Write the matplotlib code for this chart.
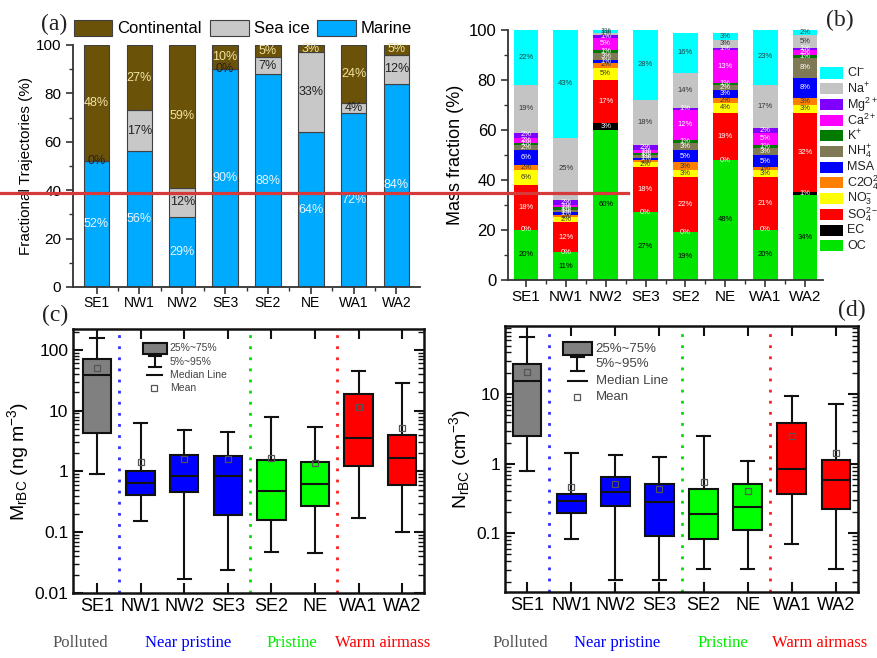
import matplotlib
matplotlib.use('Agg')
import matplotlib.pyplot as plt
from matplotlib.lines import Line2D
from matplotlib.patches import Rectangle
from matplotlib.ticker import MultipleLocator, FixedLocator, FuncFormatter, LogLocator, NullFormatter
import numpy as np

plt.rcParams['font.family'] = ['Liberation Sans', 'DejaVu Sans']
plt.rcParams['mathtext.default'] = 'regular'

sites = ['SE1', 'NW1', 'NW2', 'SE3', 'SE2', 'NE', 'WA1', 'WA2']

# (a) fractional trajectories (%)
marine = [52, 56, 29, 90, 88, 64, 72, 84]
sea_ice = [0, 17, 12, 0, 7, 33, 4, 12]
continental = [48, 27, 59, 10, 5, 3, 24, 5]

# (b) mass fraction (%), bottom to top
oc = [20, 11, 60, 27, 19, 48, 20, 34]
ec = [0, 0, 3, 0, 0, 0, 0, 1]
so4 = [18, 12, 17, 18, 22, 19, 21, 32]
no3 = [6, 2, 5, 2, 3, 4, 3, 3]
c2o4 = [2, 1, 2, 1, 3, 2, 1, 3]
msa = [6, 1, 1, 1, 5, 3, 5, 8]
nh4 = [2, 1, 3, 1, 3, 2, 3, 8]
k = [1, 1, 1, 1, 1, 1, 1, 1]
ca = [2, 1, 5, 1, 12, 13, 5, 2]
mg = [2, 2, 1, 2, 1, 1, 2, 1]
na = [19, 25, 1, 18, 14, 3, 17, 5]
cl = [22, 43, 1, 28, 16, 3, 23, 2]
species_names = ['OC', 'EC', 'SO$_4^{2-}$', 'NO$_3^{-}$', 'C2O$_4^{2-}$', 'MSA',
                 'NH$_4^{+}$', 'K$^{+}$', 'Ca$^{2+}$', 'Mg$^{2+}$', 'Na$^{+}$', 'Cl$^{-}$']
species_colors = ['#00e400', '#000000', '#ff0000', '#ffff00', '#ff8000', '#0000ff',
                  '#7f7a55', '#007a00', '#ff00ff', '#8000ff', '#c4c4c4', '#00ffff']
species_text = ['k', 'w', 'w', '#333333', '#333333', 'w', 'w', 'w', 'w', 'w', '#333333', '#224444']

# (c) M_rBC box stats (ng m-3)
m_whislo = [0.9, 0.155, 0.017, 0.0235, 0.048, 0.045, 0.17, 0.1]
m_q1 = [4.3, 0.41, 0.46, 0.19, 0.16, 0.27, 1.25, 0.59]
m_med = [38, 0.65, 0.84, 0.84, 0.47, 0.63, 3.5, 1.65]
m_q3 = [70, 1.0, 1.85, 1.79, 1.54, 1.45, 18.7, 4.0]
m_whishi = [155, 6.3, 4.8, 4.4, 7.9, 5.4, 45, 28]
m_mean = [50, 1.45, 1.6, 1.6, 1.65, 1.4, 11.3, 5.2]

# (d) N_rBC box stats (cm-3)
n_whislo = [0.78, 0.083, 0.021, 0.021, 0.031, 0.031, 0.07, 0.031]
n_q1 = [2.5, 0.195, 0.25, 0.092, 0.083, 0.112, 0.37, 0.22]
n_med = [15.3, 0.29, 0.39, 0.28, 0.19, 0.235, 0.84, 0.58]
n_q3 = [27, 0.37, 0.64, 0.51, 0.44, 0.52, 3.85, 1.13]
n_whishi = [66, 1.45, 1.35, 1.27, 2.5, 1.08, 9.5, 7.3]
n_mean = [20.6, 0.47, 0.52, 0.44, 0.54, 0.41, 2.5, 1.45]

box_colors = ['#808080', '#0000ff', '#0000ff', '#0000ff', '#00ff00', '#00ff00', '#ff0000', '#ff0000']
dividers = [0.5, 3.5, 5.5]
divider_colors = ['#3030ff', '#00e000', '#ff2020']
groups = ['Polluted', 'Near pristine', 'Pristine', 'Warm airmass']
group_colors = ['#555555', '#0000ff', '#00ee00', '#ff0000']

W, H = 877, 658
fig = plt.figure(figsize=(W / 100, H / 100), dpi=100)


def px(l, t, r, b):
    return [l / W, 1 - b / H, (r - l) / W, (b - t) / H]


x = np.arange(len(sites))

# ---------------- (a)
axa = fig.add_axes(px(73, 45, 420, 287))
bw = 0.6
ec_kw = dict(edgecolor='#404040', linewidth=0.8)
axa.bar(x, marine, bw, color='#00aaff', label='Marine', **ec_kw)
axa.bar(x, sea_ice, bw, bottom=marine, color='#c8c8c8', label='Sea ice', **ec_kw)
bot2 = np.add(marine, sea_ice)
axa.bar(x, continental, bw, bottom=bot2, color='#6b5209', label='Continental', **ec_kw)
for i in x:
    axa.text(i, marine[i] / 2, f'{marine[i]}%', ha='center', va='center', fontsize=9, color='#eaf6ff')
    axa.text(i, marine[i] + sea_ice[i] / 2, f'{sea_ice[i]}%', ha='center', va='center', fontsize=9, color='#222222')
    axa.text(i, bot2[i] + continental[i] / 2, f'{continental[i]}%', ha='center', va='center',
             fontsize=9, color='#f2e4a0')
axa.set_xlim(-0.55, 7.55)
axa.set_ylim(0, 100)
axa.set_xticks(x)
axa.set_xticklabels(sites, fontsize=10)
axa.xaxis.set_minor_locator(FixedLocator(x[:-1] + 0.5))
axa.yaxis.set_major_locator(MultipleLocator(20))
axa.yaxis.set_minor_locator(MultipleLocator(10))
axa.tick_params(labelsize=11, length=5, width=1.2, color='#333333')
axa.tick_params(axis='x', labelsize=10, pad=1.5)
axa.tick_params(which='minor', length=3, width=1.0, color='#333333')
for s in ['top', 'right']:
    axa.spines[s].set_visible(False)
for s in ['left', 'bottom']:
    axa.spines[s].set_color('#333333')
    axa.spines[s].set_linewidth(1.3)
axa.set_ylabel('Fractional Trajectories (%)', fontsize=11, labelpad=2)
h, l = axa.get_legend_handles_labels()
axa.legend(h[::-1], l[::-1], ncol=3, loc='center left', bbox_to_anchor=(74 / W, 1 - 28 / H),
           bbox_transform=fig.transFigure, frameon=False, fontsize=12, borderpad=0,
           borderaxespad=0, handlelength=2.3, handleheight=1.1, handletextpad=0.3, columnspacing=0.5)

# ---------------- (b)
axb = fig.add_axes(px(508, 30, 823, 280))
comps = [oc, ec, so4, no3, c2o4, msa, nh4, k, ca, mg, na, cl]
bottom = np.zeros(len(sites))
for vals, name, col, tc in zip(comps, species_names, species_colors, species_text):
    axb.bar(x, vals, 0.62, bottom=bottom, color=col, label=name, linewidth=0)
    for i in x:
        axb.text(i, bottom[i] + vals[i] / 2, f'{vals[i]}%', ha='center', va='center',
                 fontsize=5.5, color=tc)
    bottom = bottom + np.array(vals)
axb.set_xlim(-0.45, 7.45)
axb.set_ylim(0, 100)
axb.set_xticks(x)
axb.set_xticklabels(sites)
axb.xaxis.set_minor_locator(FixedLocator(x[:-1] + 0.5))
axb.yaxis.set_major_locator(MultipleLocator(20))
axb.yaxis.set_minor_locator(MultipleLocator(10))
axb.tick_params(labelsize=12, length=5, width=1.2, color='#333333')
axb.tick_params(axis='x', labelsize=11, pad=2)
axb.tick_params(which='minor', length=3, width=1.0, color='#333333')
for s in ['top', 'right']:
    axb.spines[s].set_visible(False)
for s in ['left', 'bottom']:
    axb.spines[s].set_color('#333333')
    axb.spines[s].set_linewidth(1.3)
axb.set_ylabel('Mass fraction (%)', fontsize=13, labelpad=3)

# legend for (b), stacked top (Cl) to bottom (OC)
for j, (name, col) in enumerate(zip(species_names[::-1], species_colors[::-1])):
    yc = 73 + j * 15.7
    fig.add_artist(Rectangle((820 / W, 1 - (yc + 5.5) / H), 23 / W, 11 / H,
                             transform=fig.transFigure, facecolor=col, edgecolor='none'))
    fig.text(847 / W, 1 - yc / H, name, fontsize=9, va='center', ha='left', color='#222222')


# ---------------- (c) and (d)
def box_panel(ax, whislo, q1, med, q3, whishi, mean, ylim, leg):
    stats = []
    for i in range(len(sites)):
        stats.append(dict(whislo=whislo[i], q1=q1[i], med=med[i], q3=q3[i], whishi=whishi[i],
                          mean=mean[i], fliers=[]))
    bp = ax.bxp(stats, positions=x, widths=0.65, patch_artist=True, showmeans=True,
                capwidths=0.3,
                boxprops=dict(linewidth=1.5, edgecolor='#111111'),
                medianprops=dict(color='#111111', linewidth=1.5),
                whiskerprops=dict(color='#111111', linewidth=1.5),
                capprops=dict(color='#111111', linewidth=1.5),
                meanprops=dict(marker='s', markerfacecolor='none', markeredgecolor='#555555',
                               markersize=5, markeredgewidth=0.9))
    for patch, c in zip(bp['boxes'], box_colors):
        patch.set_facecolor(c)
    for d, c in zip(dividers, divider_colors):
        ax.axvline(d, color=c, linestyle=(0, (1, 3)), linewidth=2)
    ax.set_yscale('log')
    ax.set_ylim(*ylim)
    ax.set_xlim(-0.55, 7.5)
    ax.set_xticks(x)
    ax.set_xticklabels(sites)
    ax.yaxis.set_major_locator(LogLocator(base=10))
    ax.yaxis.set_minor_locator(LogLocator(base=10, subs=np.arange(2, 10)))
    ax.yaxis.set_minor_formatter(NullFormatter())
    ax.yaxis.set_major_formatter(FuncFormatter(lambda v, p: '%g' % v))
    ax.tick_params(which='both', direction='in', top=True, right=True, labelsize=13, color='#111111')
    ax.tick_params(which='major', length=7, width=1.5)
    ax.tick_params(which='minor', length=4, width=1.0)
    ax.tick_params(axis='y', labelsize=12.5)
    for s in ax.spines.values():
        s.set_linewidth(1.8)
        s.set_color('#111111')
    # legend drawn in axes fraction
    bx0, bx1, by0, by1, wy, tx, ty, ml0, ml1, mx, fs = leg
    tr = ax.transAxes
    ax.add_patch(Rectangle((bx0, by0), bx1 - bx0, by1 - by0, transform=tr, facecolor='#808080',
                           edgecolor='#111111', linewidth=1.5, clip_on=False))
    xm = (bx0 + bx1) / 2
    ax.add_line(Line2D([xm, xm], [by0, wy], transform=tr, color='#111111', lw=1.5))
    ax.add_line(Line2D([xm - 0.018, xm + 0.018], [by0 - 0.008, by0 - 0.008], transform=tr, color='#111111', lw=1.5))
    ax.add_line(Line2D([xm - 0.018, xm + 0.018], [wy, wy], transform=tr, color='#111111', lw=1.5))
    ax.add_line(Line2D([ml0, ml1], [ty[2], ty[2]], transform=tr, color='#111111', lw=1.5))
    ax.add_line(Line2D([mx], [ty[3]], transform=tr, marker='s', markerfacecolor='none',
                       markeredgecolor='#555555', markersize=4.5, markeredgewidth=0.9))
    for yy, t in zip(ty, ['25%~75%', '5%~95%', 'Median Line', 'Mean']):
        ax.text(tx, yy, t, transform=tr, fontsize=fs, color='#444444', va='center', ha='left')


axc = fig.add_axes(px(73, 329, 424, 593))
box_panel(axc, m_whislo, m_q1, m_med, m_q3, m_whishi, m_mean, (0.01, 220),
          (0.2, 0.268, 0.905, 0.948, 0.857, 0.276, [0.927, 0.876, 0.826, 0.775], 0.21, 0.254, 0.231, 7.5))
axc.set_ylabel('M$_{rBC}$ (ng m$^{-3}$)', fontsize=14, labelpad=2)

axd = fig.add_axes(px(505, 326, 858, 592))
box_panel(axd, n_whislo, n_q1, n_med, n_q3, n_whishi, n_mean, (0.0143, 96),
          (0.163, 0.247, 0.891, 0.941, 0.831, 0.257, [0.914, 0.857, 0.794, 0.732], 0.178, 0.231, 0.203, 9.5))
axd.set_xlim(-0.5, 7.5)
axd.set_ylabel('N$_{rBC}$ (cm$^{-3}$)', fontsize=14, labelpad=2)

# group labels under (c) and (d)
serif = ['Liberation Serif', 'DejaVu Serif']
for xs in ([80, 188, 292, 383], [520, 617, 723, 820]):
    for xp, g, c in zip(xs, groups, group_colors):
        fig.text(xp / W, 1 - 643 / H, g, ha='center', va='center', fontsize=12, color=c, family=serif)

# panel letters
for t, xp, yp in [('(a)', 54, 24), ('(b)', 840, 20), ('(c)', 55, 315), ('(d)', 852, 310)]:
    fig.text(xp / W, 1 - yp / H, t, ha='center', va='center', fontsize=17, family=serif, color='#222222')

# red horizontal line across the top panels
fig.add_artist(Line2D([0, 628 / W], [1 - 193 / H, 1 - 193 / H], transform=fig.transFigure,
                      color='#d63a3a', linewidth=2.3))

fig.savefig('out.png', dpi=100)
